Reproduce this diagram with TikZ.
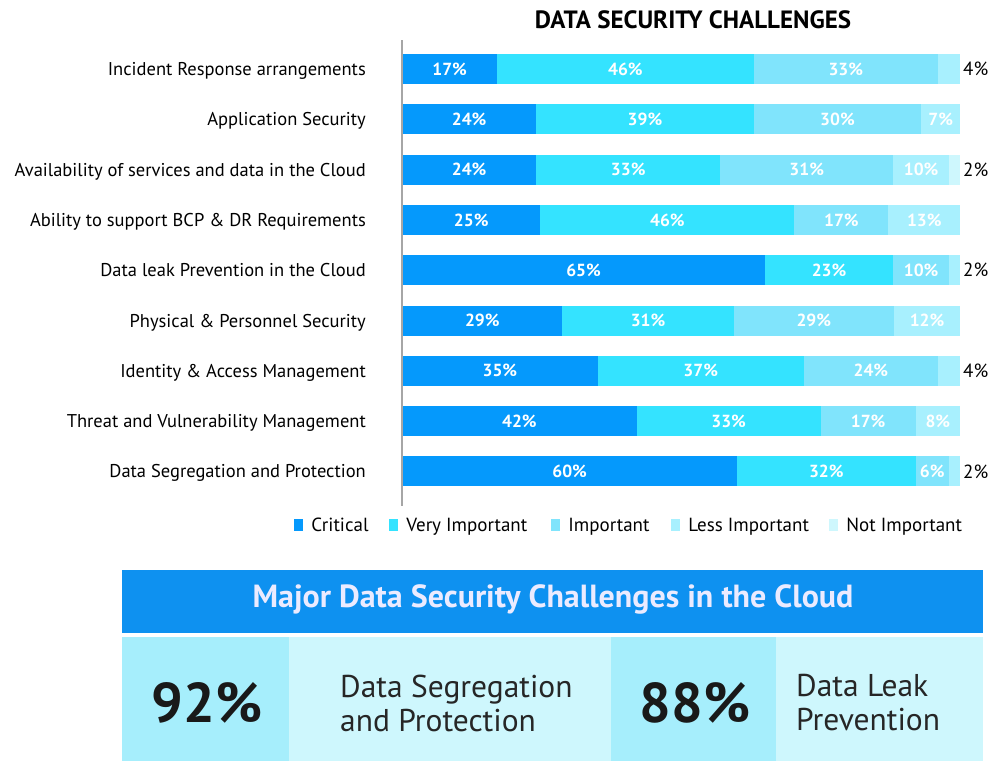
\documentclass[tikz,border=0pt]{standalone}
\usepackage{fontspec}
\setmainfont{PT Sans}
\usetikzlibrary{positioning}
\definecolor{critical}{RGB}{5,153,252}
\definecolor{veryimp}{RGB}{52,227,255}
\definecolor{imp}{RGB}{128,228,252}
\definecolor{lessimp}{RGB}{168,240,254}
\definecolor{notimp}{RGB}{206,247,253}
\definecolor{headerblue}{RGB}{14,145,240}
\definecolor{celldark}{RGB}{166,238,252}
\definecolor{celllight}{RGB}{206,247,253}
\tikzset{
    row label/.style = {
      anchor=east, inner sep=0, text height=13pt, text depth=0pt,
      font=\fontsize{18.5}{22}\selectfont,
    },
    segment/.style = {
      anchor=west, inner sep=0, minimum height=30pt, text=white,
      text height=12.3pt, text depth=0pt,
      font=\fontsize{17.5}{21}\selectfont\bfseries,
    },
    share outside/.style = {
      anchor=west, inner sep=0, text height=13.3pt, text depth=0pt,
      font=\fontsize{19}{22}\selectfont,
    },
    legend key/.style = {
      minimum width=9pt, minimum height=12pt, inner sep=0,
    },
    legend text/.style = {
      inner sep=0, text height=13.3pt, text depth=0pt,
      font=\fontsize{19}{22}\selectfont,
    },
    axis line/.style = {
      line width=2pt, black!35!white,
    },
    big share/.style = {
      inner sep=0, text=black!90!white, font=\fontsize{56}{62}\selectfont\bfseries,
    },
    challenge/.style = {
      anchor=west, inner sep=0, align=left, text=black!85!white,
      font=\fontsize{31.5}{34}\selectfont,
    },
}

\begin{document}
\begin{tikzpicture}[x=1pt, y=-1pt]
    \useasboundingbox [fill=white] (0,0) rectangle (994,761);

    %% Title of the chart
    \node [inner sep=0, font=\fontsize{25}{30}\selectfont\bfseries] (title) at (693,20) {DATA SECURITY CHALLENGES};

    %% One stacked bar per challenge, the small shares are written beside the bar
    \foreach \lab/\a/\b/\c/\d/\e [count=\r] in {
      Incident Response arrangements/17/46/33/4/0,
      Application Security/24/39/30/7/0,
      Availability of services and data in the Cloud/24/33/31/10/2,
      Ability to support BCP \& DR Requirements/25/46/17/13/0,
      Data leak Prevention in the Cloud/65/23/10/2/0,
      Physical \& Personnel Security/29/31/29/12/0,
      Identity \& Access Management/35/37/24/4/0,
      Threat and Vulnerability Management/42/33/17/8/0,
      Data Segregation and Protection/60/32/6/2/0}{%
      \pgfmathsetmacro\ry{69+50.3*(\r-1)}
      \pgfmathsetmacro\tot{\a+\b+\c+\d+\e}
      \node [row label] (lab\r) at (366,\ry) {\lab};
      \xdef\xs{0}
      \foreach \v/\col [count=\k] in {\a/critical,\b/veryimp,\c/imp,\d/lessimp,\e/notimp}{%
        \pgfmathsetmacro\w{\v/\tot*558}
        \pgfmathsetmacro\xl{402+\xs/\tot*558}
        \ifnum\v>4
          \node [segment, fill=\col, minimum width=\w pt] (bar\r-\k) at (\xl,\ry) {\v\%};
        \else\ifnum\v>0
          \node [segment, fill=\col, minimum width=\w pt] (bar\r-\k) at (\xl,\ry) {};
          \node [share outside] (out\r) at (963,\ry) {\v\%};
        \fi\fi
        \pgfmathsetmacro\xe{\xs+\v}
        \xdef\xs{\xe}
      }
    }

    %% Vertical axis
    \coordinate (axis top) at (402,40);
    \coordinate (axis bottom) at (402,506);
    \draw [axis line] (axis top) -- (axis bottom);

    %% Legend
    \foreach \col/\txt/\x [count=\k] in {critical/Critical/298.5, veryimp/Very Important/393.5,
      imp/Important/555.5, lessimp/Less Important/675.5, notimp/Not Important/833.5}{%
      \node [legend key, fill=\col] (key\k) at (\x,525) {};
      \node [legend text, right=8pt of key\k] (leg\k) {\txt};
    }

    %% Panel with the two major challenges
    \fill [headerblue] (122,570) rectangle (983,633);
    \node [inner sep=0, text=blue!8!white, font=\fontsize{32}{36}\selectfont\bfseries] (panel title) at (553,599)
      {Major Data Security Challenges in the Cloud};
    \fill [celldark] (122,637) rectangle (289,761);
    \fill [celllight] (289,637) rectangle (611,761);
    \fill [celldark] (611,637) rectangle (776,761);
    \fill [celllight] (776,637) rectangle (983,761);
    \node [big share] (share1) at (207,703) {92\%};
    \node [challenge] (chal1) at (340,703) {Data Segregation\\and Protection};
    \node [big share] (share2) at (695,703) {88\%};
    \node [challenge] (chal2) at (796,703) {Data Leak\\Prevention};
\end{tikzpicture}
\end{document}
